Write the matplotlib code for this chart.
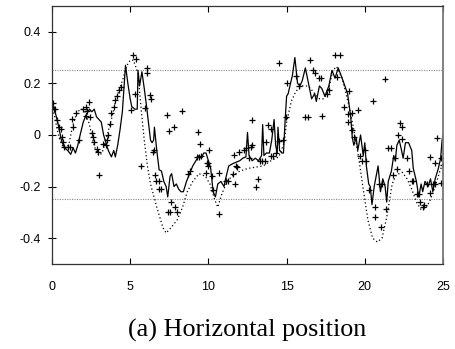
import matplotlib
matplotlib.use('Agg')
import matplotlib.pyplot as plt

# solid line (estimate)
est_x = [0.0, 0.2, 0.4, 0.6, 0.8, 1.0, 1.2, 1.35, 1.5, 1.65, 1.8, 2.0, 2.2, 2.4, 2.55,
         2.7, 2.85, 3.0, 3.15, 3.3, 3.45, 3.6, 3.8, 3.95, 4.05, 4.2, 4.35, 4.5, 4.6, 4.7,
         4.85, 5.0, 5.1, 5.3, 5.45, 5.5, 5.6, 5.75, 5.9, 6.05, 6.2, 6.3, 6.4, 6.5, 6.55,
         6.7, 6.85, 7.0, 7.15, 7.3, 7.4, 7.55, 7.65, 7.8, 7.95, 8.1, 8.25, 8.4, 8.6, 8.8,
         9.0, 9.2, 9.4, 9.55, 9.7, 9.85, 10.0, 10.15, 10.3, 10.45, 10.6, 10.8, 11.0, 11.1,
         11.3, 11.6, 12.0, 12.2, 12.4, 12.5, 12.6, 12.8, 13.0, 13.2, 13.4, 13.47, 13.55,
         13.7, 13.9, 14.05, 14.2, 14.3, 14.4, 14.45, 14.55, 14.7, 14.8, 14.9, 15.0, 15.1,
         15.25, 15.37, 15.53, 15.7, 15.85, 16.0, 16.2, 16.4, 16.6, 16.8, 16.9, 17.1, 17.25,
         17.45, 17.7, 17.9, 18.1, 18.3, 18.55, 18.9, 19.1, 19.2, 19.3, 19.45, 19.55, 19.73,
         19.9, 20.0, 20.1, 20.25, 20.35, 20.46, 20.6, 20.85, 21.0, 21.15, 21.3, 21.4, 21.5,
         21.7, 21.85, 21.95, 22.05, 22.2, 22.35, 22.45, 22.6, 22.8, 23.0, 23.1, 23.3, 23.45,
         23.6, 23.7, 23.85, 24.05, 24.2, 24.35, 24.5, 24.7, 24.85, 24.94, 25.0]
est_y = [0.12, 0.09, 0.04, -0.02, -0.05, -0.06, -0.075, -0.05, -0.07, -0.04, 0.0, 0.05, 0.08,
         0.10, 0.09, 0.10, 0.07, 0.06, 0.05, 0.0, -0.03, -0.06, -0.085, -0.06, -0.085, -0.04,
         0.02, 0.09, 0.18, 0.27, 0.2, 0.14, 0.11, 0.10, 0.10, 0.25, 0.19, 0.245, 0.18, 0.11,
         0.03, -0.02, -0.03, -0.02, 0.03, -0.06, -0.135, -0.14, -0.18, -0.20, -0.24, -0.16,
         -0.15, -0.20, -0.19, -0.21, -0.22, -0.22, -0.18, -0.15, -0.12, -0.10, -0.08, -0.09,
         -0.07, -0.07, -0.10, -0.13, -0.22, -0.24, -0.19, -0.18, -0.20, -0.17, -0.12, -0.11,
         -0.10, -0.09, -0.085, 0.01, -0.08, -0.10, -0.09, -0.10, -0.08, 0.04, -0.08, -0.07,
         -0.07, -0.02, 0.06, -0.04, -0.07, 0.03, -0.06, -0.07, -0.07, 0.05, 0.15, 0.16, 0.2,
         0.23, 0.30, 0.2, 0.19, 0.21, 0.26, 0.2, 0.14, 0.16, 0.13, 0.19, 0.18, 0.15, 0.19,
         0.25, 0.22, 0.26, 0.22, 0.16, 0.07, -0.01, -0.04, -0.01, -0.06, 0.0, -0.08, -0.03,
         -0.12, -0.19, -0.2, -0.27, -0.2, -0.12, -0.22, -0.17, -0.2, -0.26, -0.18, -0.14,
         -0.08, -0.1, -0.04, -0.02, -0.06, -0.09, -0.03, -0.03, -0.06, -0.13, -0.18, -0.24,
         -0.19, -0.22, -0.18, -0.2, -0.17, -0.22, -0.17, -0.13, -0.09, -0.02, 0.0]

# dotted line (reference)
ref_x = [0.0, 0.15, 0.3, 0.5, 0.7, 0.95, 1.1, 1.3, 1.6, 1.9, 2.1, 2.4, 2.6, 2.8, 3.0, 3.2,
         3.4, 3.8, 4.1, 4.5, 4.8, 5.0, 5.2, 5.5, 5.7, 5.9, 6.1, 6.3, 6.7, 7.1, 7.3, 7.6, 8.0,
         8.35, 8.65, 9.0, 9.4, 9.8, 10.1, 10.4, 10.6, 10.85, 11.2, 11.5, 12.0, 12.5, 13.0,
         13.5, 14.0, 14.5, 14.85, 15.0, 15.3, 15.6, 16.0, 16.4, 16.8, 17.1, 17.4, 17.7,
         17.95, 18.2, 18.55, 19.0, 19.3, 19.6, 19.9, 20.2, 20.5, 20.8, 21.1, 21.4, 21.75,
         22.0, 22.4, 22.7, 23.0, 23.3, 23.6, 23.9, 24.2, 24.5, 24.8, 25.0]
ref_y = [0.10, 0.08, 0.03, -0.02, -0.045, -0.05, -0.03, 0.03, 0.09, 0.10, 0.09, 0.04, -0.02,
         -0.06, -0.08, -0.07, -0.03, 0.06, 0.14, 0.21, 0.27, 0.29, 0.29, 0.24, 0.10, -0.02,
         -0.12, -0.19, -0.28, -0.36, -0.38, -0.36, -0.33, -0.28, -0.22, -0.18, -0.15, -0.16,
         -0.19, -0.25, -0.28, -0.23, -0.18, -0.16, -0.14, -0.13, -0.125, -0.12, -0.10,
         -0.085, -0.03, 0.05, 0.13, 0.17, 0.19, 0.19, 0.16, 0.14, 0.14, 0.18, 0.25, 0.265,
         0.22, 0.11, 0.02, -0.085, -0.21, -0.33, -0.40, -0.415, -0.40, -0.32, -0.19, -0.155,
         -0.145, -0.17, -0.21, -0.26, -0.29, -0.285, -0.25, -0.2, -0.14, -0.11]

# '+' measurements
meas_x = [0.04, 0.12, 0.19, 0.3, 0.47, 0.55, 0.62, 0.68, 0.75, 1.0, 1.15, 1.26, 1.36, 1.53,
          1.75, 2.0, 2.2, 2.26, 2.37, 2.2, 2.43, 2.54, 2.6, 2.69, 2.86, 2.96, 3.02, 3.24,
          3.45, 3.5, 3.6, 3.7, 3.8, 3.96, 4.03, 4.13, 4.28, 4.41, 5.07, 5.18, 5.4, 5.28,
          5.93, 6.07, 6.1, 6.24, 6.3, 5.71, 6.43, 6.5, 7.35, 7.48, 7.78, 8.33, 6.6, 6.67,
          6.85, 6.82, 6.99, 7.63, 7.42, 7.55, 7.84, 8.0, 8.7, 8.8, 9.33, 9.44, 9.3, 9.4,
          9.5, 9.87, 9.9, 10.06, 10.0, 9.98, 10.23, 10.3, 10.66, 10.7, 11.15, 11.25, 11.55,
          11.7, 11.66, 11.97, 11.76, 11.85, 12.3, 12.4, 12.6, 12.72, 12.8, 12.8, 13.15,
          13.04, 13.3, 13.45, 13.6, 13.8, 14.0, 14.0, 14.1, 14.3, 14.53, 14.8, 13.7, 14.5,
          14.94, 15.05, 15.6, 15.8, 16.2, 16.4, 16.5, 16.7, 16.8, 17.05, 17.2, 17.28,
          17.56, 17.7, 18.07, 18.4, 18.24, 19.0, 18.7, 18.9, 19.2, 19.57, 18.9, 19.2, 19.3,
          19.7, 19.8, 20.0, 20.1, 20.25, 20.63, 20.67, 21.04, 21.36, 20.9, 21.1, 20.55,
          21.27, 21.5, 21.7, 21.9, 22.05, 21.78, 22.15, 22.25, 22.4, 22.4, 22.7, 22.8,
          23.0, 23.1, 23.35, 23.45, 23.55, 23.8, 23.7, 24.0, 24.2, 24.35, 24.5, 24.2, 24.5,
          24.6, 24.9, 25.0, 24.9]
meas_y = [0.123, 0.1, 0.1, 0.058, 0.03, 0.022, -0.006, -0.026, -0.045, -0.045, -0.045, 0.06,
          0.032, 0.087, -0.02, 0.1, 0.11, 0.094, 0.127, 0.074, 0.07, 0.008, -0.006, -0.026,
          -0.053, -0.065, -0.155, -0.035, -0.039, -0.02, 0.0, 0.043, 0.084, 0.11, 0.136,
          0.15, 0.175, 0.187, 0.097, 0.31, 0.295, 0.16, 0.105, 0.26, 0.24, 0.155, 0.14,
          -0.12, -0.065, -0.06, 0.078, 0.017, 0.03, 0.093, -0.155, -0.177, -0.177, -0.21,
          -0.21, -0.26, -0.30, -0.30, -0.28, -0.30, -0.15, -0.14, 0.013, -0.035, -0.085,
          -0.085, -0.08, -0.146, -0.11, -0.058, -0.11, -0.12, -0.16, -0.213, -0.146, -0.305,
          -0.177, -0.177, -0.15, -0.19, -0.078, -0.065, -0.12, -0.125, -0.058, -0.05, -0.09,
          -0.045, -0.04, 0.058, -0.17, -0.2, -0.1, -0.1, -0.1, 0.04, 0.023, -0.08, -0.08,
          -0.07, 0.278, -0.02, -0.026, -0.025, 0.07, 0.2, 0.23, 0.19, 0.07, 0.07, 0.29, 0.25,
          0.24, 0.22, 0.22, 0.074, 0.16, 0.175, 0.31, 0.31, 0.225, 0.17, 0.11, 0.08, 0.087,
          0.097, 0.052, 0.02, -0.007, -0.08, -0.1, -0.06, -0.1, -0.213, -0.278, -0.317,
          -0.355, -0.287, -0.19, -0.19, 0.13, 0.217, -0.052, -0.052, -0.09, -0.13, -0.155,
          0.0, 0.045, 0.03, -0.016, -0.09, -0.14, -0.18, -0.18, -0.23, -0.23, -0.26, -0.27,
          -0.28, -0.19, -0.226, -0.19, -0.19, -0.084, -0.108, -0.013, -0.09, -0.117, -0.187]

band = [0.25, -0.25]
x_ticks = [0, 5, 10, 15, 20, 25]
y_ticks = [0.4, 0.2, 0, -0.2, -0.4]
y_labels = ['0.4', '0.2', '0', '-0.2', '-0.4']


def plot_chart():
    fig = plt.figure(figsize=(4.56, 3.49), dpi=100)
    ax = fig.add_axes([0.114, 0.2436, 0.8575, 0.7394])

    for b in band:
        ax.axhline(b, color='#888888', lw=0.8, ls=(0, (1, 1.2)))

    ax.plot(ref_x, ref_y, color='black', lw=0.9, ls=(0, (1, 2)))
    ax.plot(est_x, est_y, color='black', lw=0.9)
    ax.plot(meas_x, meas_y, ls='none', marker='+', color='black', ms=5, mew=0.9)

    ax.set_xlim(0, 25)
    ax.set_ylim(-0.5, 0.5)
    ax.set_xticks(x_ticks)
    ax.set_yticks(y_ticks)
    ax.set_yticklabels(y_labels)
    ax.tick_params(axis='x', direction='in', length=4, width=0.8, top=True, pad=12,
                   labelsize=9, labelfontfamily='Liberation Sans')
    ax.tick_params(axis='y', direction='inout', length=6, width=0.8, pad=5,
                   labelsize=9, labelfontfamily='Liberation Sans')
    for side in ['left', 'bottom', 'top']:
        ax.spines[side].set_color('#333333')
        ax.spines[side].set_linewidth(0.9)
    ax.spines['right'].set_color('#777777')
    ax.spines['right'].set_linewidth(1.3)

    fig.text(0.543, 0.052, '(a) Horizontal position', ha='center', va='center',
             fontsize=18.8, family='Liberation Serif')
    fig.savefig('out.png', dpi=100)


if __name__ == '__main__':
    plot_chart()
